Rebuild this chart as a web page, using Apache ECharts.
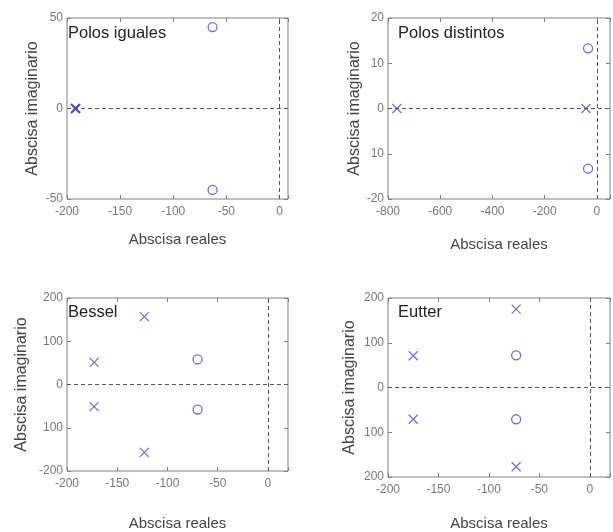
<!DOCTYPE html>
<html>
<head>
<meta charset="utf-8">
<script src="https://cdn.jsdelivr.net/npm/echarts@6/dist/echarts.min.js"></script>
<style>
  html, body { margin: 0; padding: 0; background: #fff; }
  #chart { width: 613px; height: 532px; }
</style>
</head>
<body>
<div id="chart"></div>
<script>
// panel titles
const titles = ["Polos iguales", "Polos distintos", "Bessel", "Eutter"];

// poles (x) and zeros (o) per panel: [real, imag]
const p1Poles = [[-192, 0]];
const p1Zeros = [[-63, 45], [-63, -45]];
const p2Poles = [[-766, 0], [-42, 0]];
const p2Zeros = [[-34, 13.3], [-34, -13.3]];
const p3Poles = [[-173, 51], [-173, -51], [-123, 157], [-123, -157]];
const p3Zeros = [[-70, 58], [-70, -58]];
const p4Poles = [[-175, 71], [-175, -71], [-73, 175], [-73, -177]];
const p4Zeros = [[-73, 72], [-73, -71]];

// tick values and the labels as printed in the picture
const p1XTicks = [-200, -150, -100, -50, 0];
const p1XLabels = ["-200", "-150", "-100", "-50", "0"];
const p1YTicks = [-50, 0, 50];
const p1YLabels = ["-50", "0", "50"];
const p2XTicks = [-800, -600, -400, -200, 0];
const p2XLabels = ["-800", "-600", "-400", "-200", "0"];
const p2YTicks = [-20, -10, 0, 10, 20];
const p2YLabels = ["-20", "10", "0", "10", "20"];
const p3XTicks = [-200, -150, -100, -50, 0];
const p3XLabels = ["-200", "-150", "-100", "-50", "0"];
const p3YTicks = [-200, -100, 0, 100, 200];
const p3YLabels = ["-200", "100", "0", "100", "200"];
const p4XTicks = [-200, -150, -100, -50, 0];
const p4XLabels = ["-200", "-150", "-100", "-50", "0"];
const p4YTicks = [-200, -100, 0, 100, 200];
const p4YLabels = ["200", "100", "0", "100", "200"];

const panels = [
  { poles: p1Poles, zeros: p1Zeros, xt: p1XTicks, xl: p1XLabels, yt: p1YTicks, yl: p1YLabels,
    x: [-200, 8, 50], y: [-50, 50, 50], grid: [67, 18, 221, 181], xGap: 33, yGap: 26, bold: true },
  { poles: p2Poles, zeros: p2Zeros, xt: p2XTicks, xl: p2XLabels, yt: p2YTicks, yl: p2YLabels,
    x: [-800, 50, 200], y: [-20, 20, 10], grid: [388, 18, 223, 181], xGap: 38, yGap: 25 },
  { poles: p3Poles, zeros: p3Zeros, xt: p3XTicks, xl: p3XLabels, yt: p3YTicks, yl: p3YLabels,
    x: [-200, 20, 50], y: [-200, 200, 100], grid: [67, 298, 221, 181], xGap: 45, yGap: 37 },
  { poles: p4Poles, zeros: p4Zeros, xt: p4XTicks, xl: p4XLabels, yt: p4YTicks, yl: p4YLabels,
    x: [-200, 20, 50], y: [-200, 200, 100], grid: [388, 298, 223, 181], xGap: 39, yGap: 30 }
];

const blue = "#4a4ac8";
const xPath = "path://M0,0L10,10M10,0L0,10";
const font = "Liberation Sans";

function labelFn(ticks, labels) {
  return function (v) {
    const i = ticks.indexOf(v);
    return i >= 0 ? labels[i] : "";
  };
}

const grid = [], xAxis = [], yAxis = [], series = [], title = [];

panels.forEach((p, i) => {
  const [l, t, w, h] = p.grid;
  grid.push({ left: l, top: t, width: w, height: h, show: true,
    borderColor: "#808080", borderWidth: 1, backgroundColor: "#fff" });

  const tick = { inside: true, length: 4, lineStyle: { color: "#808080" } };
  const line = { show: false, onZero: false };
  xAxis.push({
    type: "value", gridIndex: i, min: p.x[0], max: p.x[1], interval: p.x[2],
    name: "Abscisa reales", nameLocation: "middle", nameGap: p.xGap,
    nameTextStyle: { color: "#444", fontSize: 15, fontFamily: font },
    axisLine: line, splitLine: { show: false }, axisTick: tick,
    axisLabel: { color: "#777", fontSize: 12, fontFamily: font, margin: 7,
      formatter: labelFn(p.xt, p.xl) }
  });
  xAxis.push({
    type: "value", gridIndex: i, position: "top", min: p.x[0], max: p.x[1], interval: p.x[2],
    axisLine: line, splitLine: { show: false }, axisTick: tick,
    axisLabel: { show: false }
  });
  yAxis.push({
    type: "value", gridIndex: i, min: p.y[0], max: p.y[1], interval: p.y[2],
    name: "Abscisa imaginario", nameLocation: "middle", nameGap: p.yGap,
    nameTextStyle: { color: "#444", fontSize: 16, fontFamily: font },
    axisLine: line, splitLine: { show: false }, axisTick: tick,
    axisLabel: { color: "#777", fontSize: 12, fontFamily: font, margin: 4,
      formatter: labelFn(p.yt, p.yl) }
  });
  yAxis.push({
    type: "value", gridIndex: i, position: "right", min: p.y[0], max: p.y[1], interval: p.y[2],
    axisLine: line, splitLine: { show: false }, axisTick: tick,
    axisLabel: { show: false }
  });

  series.push({
    type: "scatter", xAxisIndex: 2 * i, yAxisIndex: 2 * i, data: p.zeros,
    symbol: "circle", symbolSize: 9,
    itemStyle: { color: "rgba(0,0,0,0)", borderColor: blue, borderWidth: 1.3 },
    markLine: {
      silent: true, symbol: "none", label: { show: false },
      lineStyle: { color: "#555", type: [4, 3], width: 1 },
      data: [{ xAxis: 0 }, { yAxis: 0 }]
    },
    z: 3
  });
  series.push({
    type: "scatter", xAxisIndex: 2 * i, yAxisIndex: 2 * i, data: p.poles,
    symbol: xPath, symbolSize: 9,
    itemStyle: { color: "rgba(0,0,0,0)", borderColor: p.bold ? "#1a1ae0" : blue,
      borderWidth: p.bold ? 2.2 : 1.2 },
    z: 4
  });

  title.push({
    text: titles[i], left: l + (i % 2 ? 10 : 1), top: t + (i < 2 ? 7 : 6), padding: 0,
    textStyle: { fontSize: 16.5, fontWeight: "normal", color: "#222", fontFamily: font }
  });
});

const chart = echarts.init(document.getElementById("chart"));
chart.setOption({
  animation: false,
  title: title,
  grid: grid,
  xAxis: xAxis,
  yAxis: yAxis,
  series: series
});
</script>
</body>
</html>
